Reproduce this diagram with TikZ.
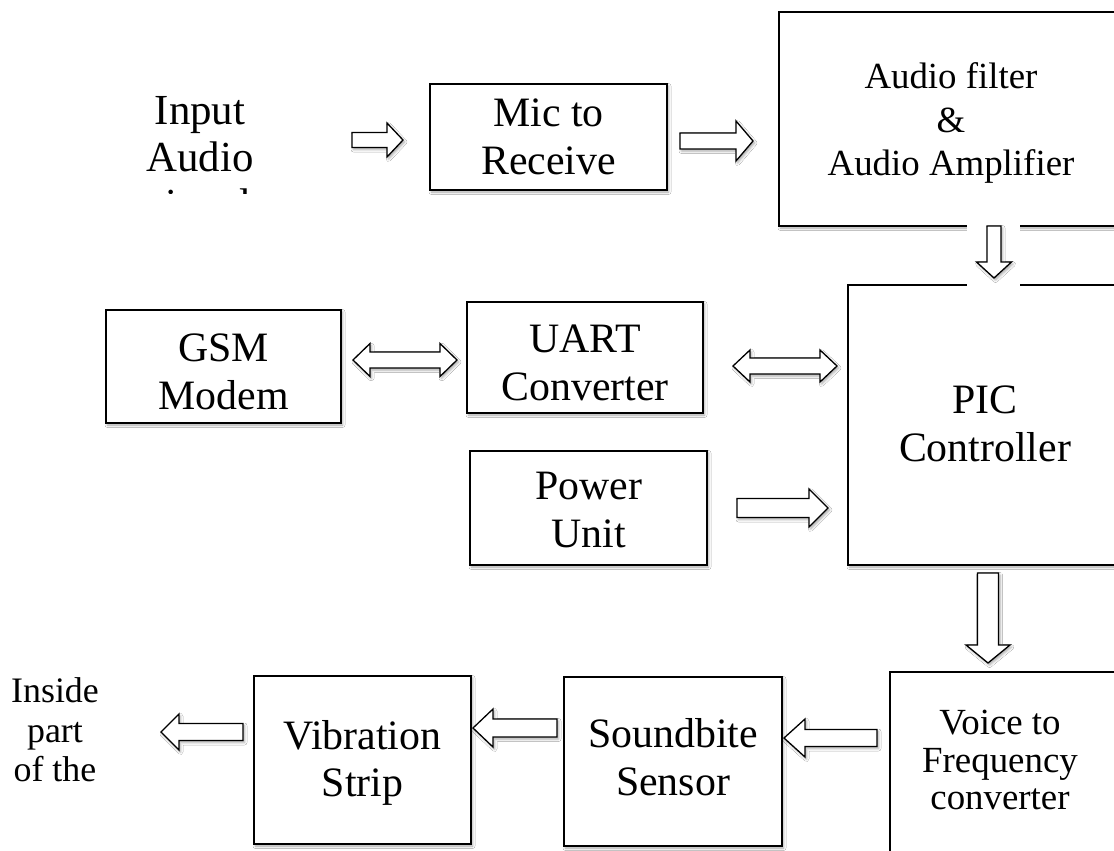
\documentclass[tikz,border=0pt]{standalone}
\usepackage{fontspec}
\setmainfont{Liberation Serif}
\usetikzlibrary{calc,shadows.blur}
\tikzset{
  shd/.style={blur shadow={shadow xshift=1.5bp, shadow yshift=-2bp, shadow blur radius=2.5bp, shadow opacity=35}},
  box/.style={draw, line width=1.3bp, fill=white, inner sep=0pt, shd},
  txt/.style={align=center, inner sep=0pt, font=\fontsize{42}{48}\selectfont},
  blk/.style={draw, line width=1.3bp, fill=white, line join=miter, shd},
  lbl/.style={align=center, inner sep=0pt}
}
% single block arrow: start, end, shaft half-width, head half-width, head length
\newcommand\sarrow[5]{%
  \coordinate (hb) at ($(#2)!#5!(#1)$);
  \draw[blk] ($(#1)!#3!90:(#2)$) -- ($(hb)!#3!90:(#2)$) -- ($(hb)!#4!90:(#2)$) -- (#2)
    -- ($(hb)!#4!-90:(#2)$) -- ($(hb)!#3!-90:(#2)$) -- ($(#1)!#3!-90:(#2)$) -- cycle;}
% double block arrow
\newcommand\darrow[5]{%
  \coordinate (ha) at ($(#1)!#5!(#2)$);
  \coordinate (hb) at ($(#2)!#5!(#1)$);
  \draw[blk] (#1) -- ($(ha)!#4!90:(#2)$) -- ($(ha)!#3!90:(#2)$) -- ($(hb)!#3!90:(#2)$)
    -- ($(hb)!#4!90:(#2)$) -- (#2) -- ($(hb)!#4!-90:(#2)$) -- ($(hb)!#3!-90:(#2)$)
    -- ($(ha)!#3!-90:(#2)$) -- ($(ha)!#4!-90:(#2)$) -- cycle;}
\begin{document}
\begin{tikzpicture}[x=1bp,y=-1bp]
\useasboundingbox (0,0) rectangle (1114,851);
\clip (0,0) rectangle (1114,851);
\fill[white] (0,0) rectangle (1114,851);

% free texts
\begin{scope}
  \clip (100,60) rectangle (300,193);
  \node[lbl, font=\fontsize{43}{47}\selectfont] (input) at (200,162) {Input\\Audio\\signal};
\end{scope}
\node[lbl, font=\fontsize{36}{39.5}\selectfont] (inside) at (55,730) {Inside\\part\\of the};

% boxes
\node[box, minimum width=237bp, minimum height=106bp] (mic) at (548.5,137) {};
\node[box, minimum width=344bp, minimum height=214bp] (filter) at (951,119) {};
\node[box, minimum width=235bp, minimum height=113bp] (gsm) at (223.5,366.5) {};
\node[box, minimum width=236bp, minimum height=111bp] (uart) at (585,357.5) {};
\node[box, minimum width=237bp, minimum height=114bp] (power) at (588.5,508) {};
\node[box, minimum width=274bp, minimum height=280bp] (pic) at (985,425) {};
\node[box, minimum width=227bp, minimum height=184bp] (voice) at (1003.5,764) {};
\node[box, minimum width=218bp, minimum height=169bp] (sound) at (673,761.5) {};
\node[box, minimum width=217bp, minimum height=168bp] (vib) at (362.5,760) {};

% box texts
\node[txt] (micT) at (mic.center) {Mic to\\Receive};
\node[txt, font=\fontsize{37}{43.5}\selectfont] (filterT) at ([shift={(0,4)}]filter.center) {Audio filter\\\&\\Audio Amplifier};
\node[txt] (gsmT) at ([shift={(0,5.5)}]gsm.center) {GSM\\Modem};
\node[txt] (uartT) at ([shift={(0,5)}]uart.center) {UART\\Converter};
\node[txt] (powerT) at ([shift={(0,2)}]power.center) {Power\\Unit};
\node[txt] (picT) at ([shift={(0,-1)}]pic.center) {PIC\\Controller};
\node[txt, font=\fontsize{37}{37.5}\selectfont] (voiceT) at ([shift={(-3.5,-4)}]voice.center) {Voice to\\Frequency\\converter};
\node[txt] (soundT) at ([shift={(0,-4)}]sound.center) {Soundbite\\Sensor};
\node[txt] (vibT) at ([shift={(0,3)}]vib.center) {Vibration\\Strip};

% gap left by the down arrow's frame
\fill[white] (967,224) rectangle (1020,288);

% arrow end points
\coordinate (a1s) at (352,140);  \coordinate (a1e) at (403,140);
\coordinate (a2s) at (680,141);  \coordinate (a2e) at (753,141);
\coordinate (a3s) at (994,226);  \coordinate (a3e) at (994,278);
\coordinate (a4s) at (353,360);  \coordinate (a4e) at (457,360);
\coordinate (a5s) at (733,366);  \coordinate (a5e) at (837,366);
\coordinate (a6s) at (737,508);  \coordinate (a6e) at (828,508);
\coordinate (a7s) at (988,573);  \coordinate (a7e) at (988,663);
\coordinate (a8s) at (877,738);  \coordinate (a8e) at (784,738);
\coordinate (a9s) at (557,728);  \coordinate (a9e) at (473,728);
\coordinate (a10s) at (243,732); \coordinate (a10e) at (161,732);

\sarrow{a1s}{a1e}{7.5bp}{17bp}{16bp}
\sarrow{a2s}{a2e}{8bp}{20bp}{17bp}
\sarrow{a3s}{a3e}{7bp}{17.5bp}{16bp}
\darrow{a4s}{a4e}{8bp}{16.5bp}{17bp}
\darrow{a5s}{a5e}{8bp}{16bp}{17bp}
\sarrow{a6s}{a6e}{9.5bp}{19bp}{19bp}
\sarrow{a7s}{a7e}{10.5bp}{22bp}{18bp}
\sarrow{a8s}{a8e}{8.5bp}{19bp}{21bp}
\sarrow{a9s}{a9e}{9bp}{19bp}{20bp}
\sarrow{a10s}{a10e}{8.5bp}{18bp}{18bp}
\end{tikzpicture}
\end{document}
